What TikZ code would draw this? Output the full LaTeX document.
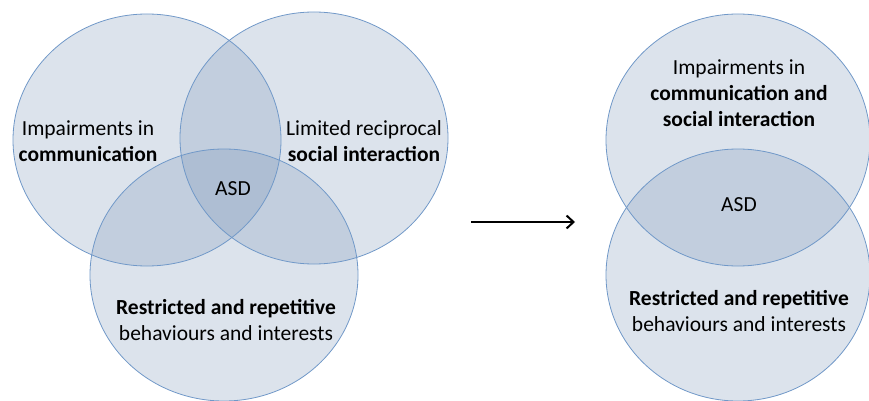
\documentclass[tikz,border=0pt]{standalone}
\usepackage{fontspec}
\setmainfont{Carlito}
\usetikzlibrary{arrows.meta}
\definecolor{SetFill}{RGB}{115,143,179}
\definecolor{SetEdge}{RGB}{112,152,200}
\tikzset{
  setfill/.style={fill=SetFill, fill opacity=0.25, draw=none},
  setedge/.style={draw=SetEdge, line width=0.8pt},
  settext/.style={align=center, font=\fontsize{21.5}{26}\selectfont},
}

\begin{document}
\begin{tikzpicture}[x=1pt, y=-1pt]
  \useasboundingbox (0,0) rectangle (869,401);

  % --- (A) Three overlapping domains ---
  \begin{scope}
    \coordinate (C1) at (147,140);
    \coordinate (C2) at (314,138);
    \coordinate (C3) at (224,275);

    % fills first, so the outlines stay on top
    \foreach \c in {C1,C2,C3}
      \path[setfill] (\c) ellipse [x radius=134pt, y radius=126pt];
    \foreach \c in {C1,C2,C3}
      \draw[setedge] (\c) ellipse [x radius=134pt, y radius=126pt];

    \node[settext] (comm) at (88,141) {Impairments in\\\textbf{communication}};
    \node[settext] (social) at (364,141) {Limited reciprocal\\\textbf{social interaction}};
    \node[settext] (rrb) at (226,320) {\textbf{Restricted and repetitive}\\behaviours and interests};
    \node[settext] (asdA) at (233,189) {ASD};
  \end{scope}

  % --- arrow between the two models ---
  \coordinate (ArrowFrom) at (471,222);
  \coordinate (ArrowTo) at (575,222);
  \draw[-{Straight Barb[length=7pt,width=13pt,line width=2pt]}, line width=2.2pt] (ArrowFrom) -- (ArrowTo);

  % --- (B) Two overlapping domains ---
  \begin{scope}
    \coordinate (D1) at (738,140);
    \coordinate (D2) at (738,275);

    \foreach \c in {D1,D2}
      \path[setfill] (\c) ellipse [x radius=132pt, y radius=126pt];
    \foreach \c in {D1,D2}
      \draw[setedge] (\c) ellipse [x radius=132pt, y radius=126pt];

    \node[settext] (commsoc) at (739,93) {Impairments in\\\textbf{communication and}\\\textbf{social interaction}};
    \node[settext] (rrbB) at (739,311) {\textbf{Restricted and repetitive}\\behaviours and interests};
    \node[settext] (asdB) at (739,205) {ASD};
  \end{scope}

\end{tikzpicture}
\end{document}
